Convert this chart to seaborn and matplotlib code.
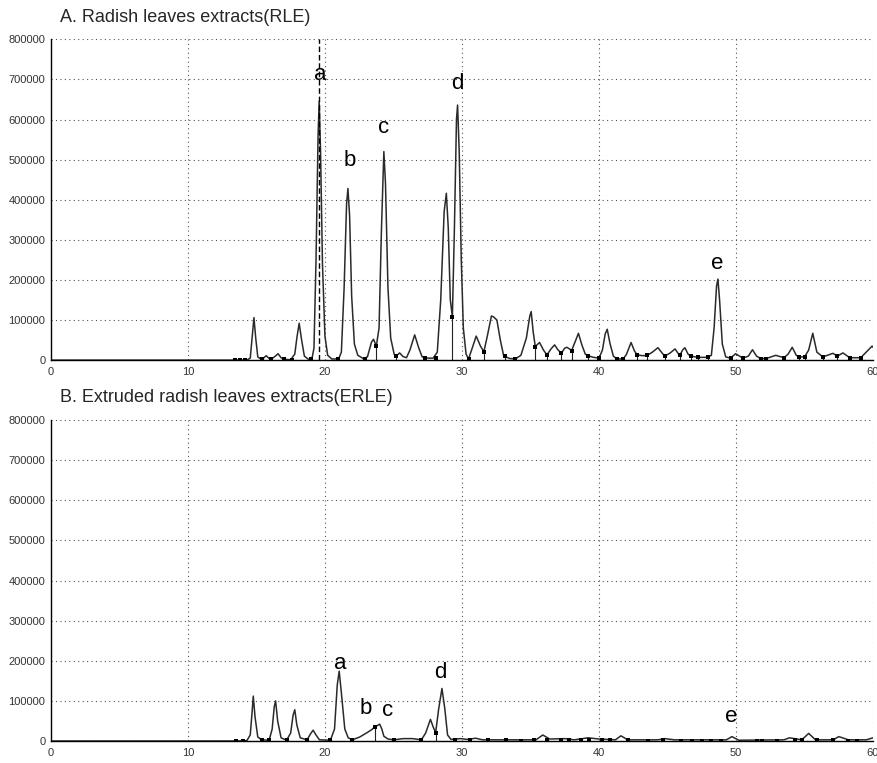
import matplotlib
matplotlib.use("Agg")
import matplotlib.pyplot as plt
from matplotlib.ticker import MultipleLocator, FuncFormatter
import seaborn as sns

# Panel A: RLE
time_a = [0, 12.5, 13.5, 14.3, 14.55, 14.7, 14.82, 14.95, 15.1, 15.35, 15.55, 15.72, 15.9, 16.1,
          16.35, 16.58, 16.8, 17.05, 17.5, 17.8, 17.95, 18.12, 18.3, 18.5, 18.8, 19.05, 19.2,
          19.35, 19.5, 19.58, 19.68, 19.82, 20.0, 20.2, 20.5, 21.0, 21.2, 21.4, 21.58, 21.68,
          21.8, 21.95, 22.15, 22.4, 22.8, 23.1, 23.4, 23.55, 23.75, 23.95, 24.12, 24.3, 24.42,
          24.6, 24.8, 25.05, 25.2, 25.45, 25.7, 25.95, 26.2, 26.55, 26.85, 27.1, 27.5, 27.9,
          28.2, 28.45, 28.7, 28.86, 29.0, 29.15, 29.3, 29.45, 29.6, 29.68, 29.8, 29.95, 30.1,
          30.3, 30.48, 30.7, 31.04, 31.35, 31.6, 31.85, 32.15, 32.3, 32.55, 32.8, 33.05, 33.5,
          33.9, 34.3, 34.7, 34.95, 35.05, 35.2, 35.35, 35.66, 35.95, 36.2, 36.5, 36.76, 37.0,
          37.25, 37.5, 37.66, 37.85, 38.0, 38.25, 38.5, 38.75, 39.0, 39.2, 39.6, 40.0, 40.25,
          40.45, 40.6, 40.8, 41.05, 41.3, 41.76, 42.0, 42.34, 42.6, 42.8, 43.2, 43.53, 43.9,
          44.3, 44.6, 44.8, 45.2, 45.55, 45.75, 45.9, 46.1, 46.27, 46.5, 46.7, 47.2, 47.9,
          48.2, 48.4, 48.58, 48.68, 48.8, 49.0, 49.25, 49.6, 49.97, 50.5, 50.9, 51.2, 51.5,
          51.8, 52.2, 52.9, 53.5, 53.8, 54.1, 54.4, 54.6, 55.0, 55.3, 55.6, 55.9, 56.34, 57.07,
          57.4, 57.8, 58.3, 59.1, 59.5, 59.93, 60.0]
signal_a = [0, 0, 0, 0, 5000, 60000, 106000, 55000, 8000, 2000, 6000, 11000, 5000, 3000,
            9000, 16000, 6000, 2000, 1000, 15000, 55000, 92000, 50000, 10000, 2000, 3000, 30000,
            250000, 560000, 645000, 520000, 240000, 60000, 12000, 3000, 3000, 20000, 180000, 390000, 428000,
            360000, 160000, 40000, 12000, 4000, 8000, 45000, 52000, 35000, 80000, 320000, 520000, 440000,
            180000, 55000, 15000, 10000, 18000, 9000, 6000, 25000, 63000, 30000, 8000, 5000, 5000,
            20000, 150000, 370000, 416000, 330000, 150000, 108000, 330000, 600000, 636000, 520000, 250000, 80000,
            15000, 3000, 25000, 60000, 35000, 21000, 60000, 110000, 108000, 100000, 50000, 10000, 4000,
            3000, 12000, 55000, 110000, 121000, 70000, 34000, 44000, 25000, 13000, 28000, 38000, 26000,
            17000, 30000, 32000, 28000, 24000, 45000, 67000, 38000, 15000, 11000, 7000, 5000, 25000,
            65000, 77000, 42000, 10000, 3000, 3000, 14000, 44000, 22000, 13000, 11000, 12000, 20000,
            31000, 18000, 10000, 18000, 28000, 18000, 12000, 25000, 31000, 15000, 10000, 7000, 7000,
            12000, 80000, 185000, 202000, 150000, 40000, 8000, 5000, 16000, 5000, 10000, 26000, 10000,
            4000, 4000, 12000, 6000, 15000, 32000, 12000, 8000, 8000, 25000, 67000, 20000, 8000, 17000,
            10000, 18000, 6000, 6000, 20000, 35000, 32000]
mark_x_a = [13.45, 13.8, 14.2, 15.42, 16.1, 17.0, 17.6, 18.95, 20.96, 22.9, 23.75, 25.17, 27.28,
            28.08, 29.3, 30.48, 31.6, 33.16, 33.9, 35.35, 36.2, 37.25, 38.0, 39.2, 40.0, 41.28,
            41.76, 42.8, 43.53, 44.8, 45.9, 46.7, 47.25, 47.98, 49.6, 50.5, 51.8, 52.2, 53.5,
            54.6, 55.0, 56.34, 57.4, 58.3, 59.1]
mark_y_a = [0, 0, 0, 2000, 3000, 2000, 1000, 2000, 3000, 4000, 35000, 10000, 5000,
            5000, 108000, 3000, 21000, 10000, 3000, 34000, 13000, 17000, 24000, 11000, 5000, 3000,
            3000, 13000, 12000, 10000, 12000, 10000, 7000, 7000, 5000, 5000, 4000, 4000, 6000,
            8000, 8000, 8000, 10000, 6000, 6000]
labels_a = ["a", "b", "c", "d", "e"]
label_x_a = [19.63, 21.82, 24.3, 29.63, 48.65]
label_y_a = [711000, 499000, 579000, 689000, 242000]
peak_a_rt = 19.6

# Panel B: ERLE
time_b = [0, 13.5, 14.3, 14.55, 14.68, 14.77, 14.9, 15.1, 15.38, 15.93, 16.15, 16.3, 16.4, 16.55,
          16.8, 17.2, 17.5, 17.68, 17.8, 17.95, 18.2, 18.7, 18.95, 19.14, 19.35, 19.6, 20.4,
          20.7, 20.9, 21.04, 21.2, 21.45, 21.7, 22.0, 22.54, 23.03, 23.4, 23.64, 24.0, 24.15,
          24.3, 24.6, 25.04, 25.7, 26.4, 27.04, 27.35, 27.7, 27.9, 28.08, 28.3, 28.54, 28.75,
          28.95, 29.2, 29.9, 30.4, 31.0, 31.5, 33.0, 35.4, 35.9, 36.4, 37.5, 38.2, 39.2, 40.0,
          41.2, 41.6, 42.1, 44.3, 44.8, 45.5, 49.3, 49.7, 50.2, 53.5, 53.9, 54.8, 55.3, 55.8,
          57.1, 57.5, 58.2, 59.5, 60.0]
signal_b = [0, 0, 1000, 15000, 70000, 112000, 60000, 10000, 3000, 2000, 30000, 85000, 100000, 50000,
            8000, 2000, 20000, 65000, 78000, 40000, 8000, 3000, 18000, 27000, 15000, 3000, 2000,
            30000, 140000, 174000, 120000, 30000, 8000, 3000, 10000, 20000, 28000, 35000, 42000, 30000,
            12000, 5000, 3000, 6000, 6000, 3000, 20000, 54000, 35000, 21000, 80000, 131000, 80000,
            15000, 4000, 6000, 4000, 7000, 3000, 3000, 3000, 15000, 5000, 6000, 3000, 8000, 5000,
            3000, 13000, 3000, 3000, 6000, 3000, 3000, 11000, 2000, 3000, 8000, 3000, 19000, 3000,
            3000, 11000, 3000, 3000, 8000]
mark_x_b = [13.5, 14.04, 15.38, 15.93, 17.2, 18.7, 20.4, 22.0, 23.64, 25.04, 27.04, 28.08,
            29.47, 30.56, 31.9, 33.2, 34.3, 35.27, 36.2, 37.2, 37.8, 38.7, 39.3, 40.2, 40.8,
            42.1, 43.6, 44.7, 46.0, 46.8, 47.5, 48.2, 48.9, 51.5, 51.9, 53.0, 54.3, 54.8,
            55.9, 57.1, 58.2, 58.8]
mark_y_b = [0, 0, 3000, 2000, 2000, 3000, 2000, 3000, 35000, 3000, 3000, 21000,
            2000, 2000, 2000, 2000, 1000, 2000, 2000, 2000, 2000, 2000, 2000, 2000, 2000,
            2000, 1000, 2000, 1000, 1000, 1000, 1000, 1000, 1000, 1000, 1000, 2000, 2000,
            2000, 2000, 1000, 1000]
labels_b = ["a", "b", "c", "d", "e"]
label_x_b = [21.15, 22.98, 24.58, 28.45, 49.67]
label_y_b = [194000, 82000, 75000, 172000, 62000]

titles = ["A. Radish leaves extracts(RLE)", "B. Extruded radish leaves extracts(ERLE)"]

# --- ESTILO ---
sns.set_style("white")
plt.rcParams['font.family'] = ['Liberation Sans', 'DejaVu Sans']

fig = plt.figure(figsize=(8.77, 7.63), dpi=100)
ax_a = fig.add_axes([0.058, 0.528, 0.9375, 0.4205])
ax_b = fig.add_axes([0.058, 0.0288, 0.9375, 0.4207])

paneles = [
    (ax_a, time_a, signal_a, mark_x_a, mark_y_a, labels_a, label_x_a, label_y_a, titles[0], 1 - 17 / 763),
    (ax_b, time_b, signal_b, mark_x_b, mark_y_b, labels_b, label_x_b, label_y_b, titles[1], 1 - 398 / 763),
]

for ax, tx, sy, mx, my, lab, lx, ly, titulo, ty in paneles:
    sns.lineplot(x=tx, y=sy, ax=ax, color="#2a2a2a", linewidth=1.1,
                 estimator=None, sort=False)
    # caidas verticales de integracion
    ax.vlines(mx, 0, my, color="#222222", linewidth=0.8)
    sns.scatterplot(x=mx, y=my, ax=ax, marker="s", s=10, color="black",
                    linewidth=0, zorder=4)
    for t, x, y in zip(lab, lx, ly):
        ax.text(x, y, t, fontsize=16, ha="center", va="center", color="black")

    ax.set_xlim(0, 60)
    ax.set_ylim(0, 800000)
    ax.xaxis.set_major_locator(MultipleLocator(10))
    ax.xaxis.set_minor_locator(MultipleLocator(5))
    ax.yaxis.set_major_locator(MultipleLocator(100000))
    ax.yaxis.set_minor_locator(MultipleLocator(50000))
    ax.yaxis.set_major_formatter(FuncFormatter(lambda v, p: f"{int(v)}"))
    ax.grid(True, which="major", linestyle=(0, (1, 3)), color="#555555", linewidth=0.8)
    ax.set_axisbelow(True)
    for lado in ["top", "right"]:
        ax.spines[lado].set_visible(False)
    for lado in ["left", "bottom"]:
        ax.spines[lado].set_color("black")
        ax.spines[lado].set_linewidth(1.0)
    ax.tick_params(axis="both", which="major", direction="inout", length=6, width=0.9,
                   labelsize=8, labelcolor="#333333", colors="black")
    ax.tick_params(axis="both", which="minor", direction="inout", length=4, width=0.9)
    ax.tick_params(axis="y", pad=1)
    ax.tick_params(axis="x", pad=2)
    for lbl in ax.get_xticklabels() + ax.get_yticklabels():
        lbl.set_color("#333333")
    ax.set_xlabel("")
    ax.set_ylabel("")
    fig.text(60 / 877, ty, titulo, fontsize=13, ha="left", va="center")

# linea discontinua del pico a (RLE)
ax_a.vlines(peak_a_rt, 0, 800000, color="black", linestyle=(0, (4, 2)), linewidth=1.0)

plt.savefig("out.png", dpi=100)
